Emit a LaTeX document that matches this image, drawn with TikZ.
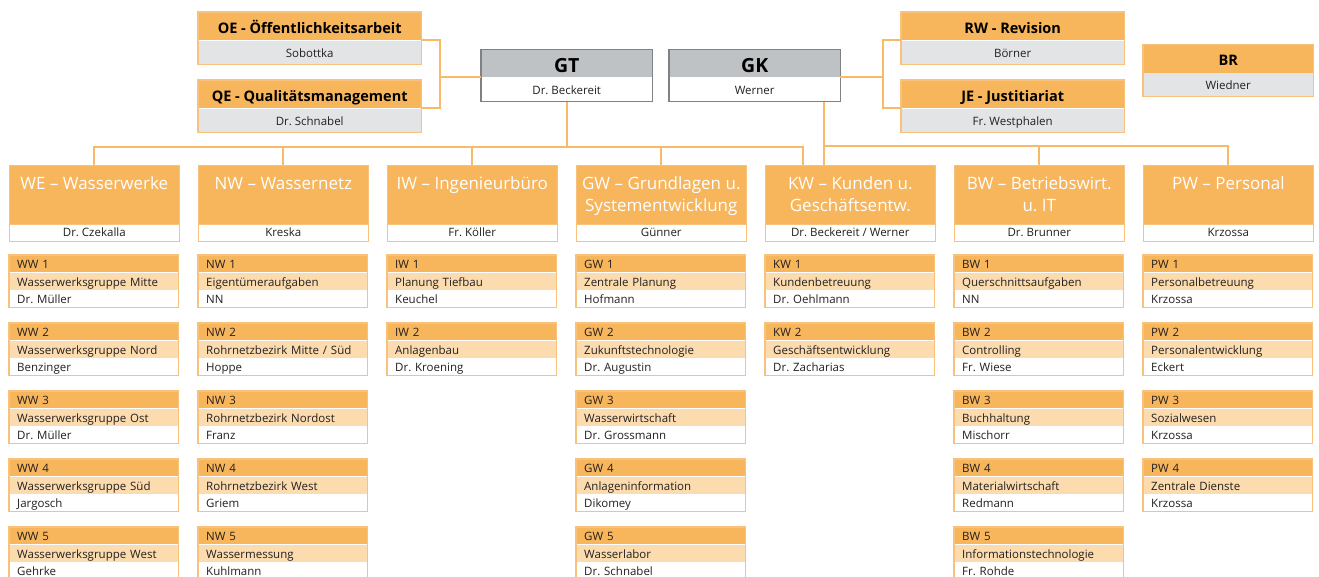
\documentclass[tikz,border=0pt]{standalone}
\usepackage{fontspec}
\setmainfont{Open Sans}
\usetikzlibrary{calc}
\frenchspacing

\definecolor{orH}{HTML}{F7B55C}
\definecolor{orM}{HTML}{FCDCAF}
\definecolor{orL}{HTML}{F9C27C}
\definecolor{lnk}{HTML}{F8BA68}
\definecolor{grL}{HTML}{E3E4E6}
\definecolor{grH}{HTML}{BEC2C4}
\definecolor{grB}{HTML}{7F8285}
\definecolor{txt}{HTML}{231F20}

% sub-unit box: name, x, y, code, task, person
\newcommand\unitbox[6]{%
  \node[rowA, anchor=north west] (#1-h) at (#2,#3) {#4};
  \node[rowB, anchor=north] (#1-m) at (#1-h.south) {#5};
  \node[rowC, anchor=north] (#1-p) at (#1-m.south) {#6};
  \draw[frame] (#1-h.north west) rectangle (#1-p.south east);}

% department box: name, x, title, person
\newcommand\deptbox[4]{%
  \node[depthead, anchor=north west] (#1) at (#2,165) {};
  \node[deptname, anchor=south] (#1-p) at (#1.south) {#4};
  \node[depttitle] (#1-t) at ($(#1.north)+(0,24.5)$)
    {\begin{tabular}[t]{@{}c@{}}#3\end{tabular}};}

% staff box: name, x, y, width, title, person, style family (o or g)
\newcommand\orgtop[7]{%
  \node[#7head, anchor=north west, minimum width=#4] (#1-h) at (#2,#3) {#5};
  \node[#7name, anchor=north, minimum width=#4] (#1) at (#1-h.south) {#6};
  \draw[#7frame] (#1-h.north west) rectangle (#1.south east);}

\begin{document}
\begin{tikzpicture}[x=1pt,y=-1pt,
  row/.style={rectangle, inner xsep=8pt, inner ysep=0pt,
    text width=153.5pt, minimum height=17pt, text height=10.5pt, text depth=0pt,
    align=left, font=\fontsize{11.5}{14}\selectfont, text=txt},
  rowA/.style={row, fill=orH},
  rowB/.style={row, fill=orM},
  rowC/.style={row, fill=white},
  frame/.style={draw=orL, line width=1.1pt},
  depthead/.style={rectangle, fill=orH, draw=orL, line width=1.1pt,
    minimum width=169.5pt, minimum height=75.7pt, inner sep=0pt},
  deptname/.style={rectangle, fill=white, draw=orL, line width=1.1pt,
    minimum width=169.5pt, minimum height=16.7pt, inner sep=0pt,
    text height=9pt, text depth=2pt, font=\fontsize{11.5}{14}\selectfont, text=txt},
  depttitle/.style={anchor=base, inner sep=0pt, text=white,
    font=\fontsize{17}{22.5}\selectfont},
  ohead/.style={rectangle, fill=orH, inner sep=0pt,
    minimum height=28pt, text height=14pt, text depth=0pt,
    font=\fontsize{14.5}{17}\selectfont\bfseries, text=black},
  oname/.style={rectangle, fill=grL, inner sep=0pt,
    minimum height=23.5pt, text height=10.5pt, text depth=0.5pt,
    font=\fontsize{11.5}{14}\selectfont, text=txt},
  oframe/.style={draw=orL, line width=1.1pt},
  ghead/.style={rectangle, fill=grH, inner sep=0pt,
    minimum height=27.5pt, text height=18.5pt, text depth=0pt,
    font=\fontsize{19.5}{22}\selectfont\bfseries, text=black},
  gname/.style={rectangle, fill=white, inner sep=0pt,
    minimum height=24pt, text height=10.5pt, text depth=0.5pt,
    font=\fontsize{11.5}{14}\selectfont, text=txt},
  gframe/.style={draw=grB, line width=1.4pt},
  link/.style={draw=lnk, line width=2pt}]

\useasboundingbox (0,0) rectangle (1319,577);
\clip (0,0) rectangle (1319,577);

% management and staff units
\orgtop{gt}{481}{49.5}{171pt}{GT}{Dr. Beckereit}{g}
\orgtop{gk}{669}{49.5}{171pt}{GK}{Werner}{g}
\orgtop{oe}{198}{12}{223pt}{OE - Öffentlichkeitsarbeit}{Sobottka}{o}
\orgtop{qe}{198}{80}{223pt}{QE - Qualitätsmanagement}{Dr. Schnabel}{o}
\orgtop{rw}{901}{12}{223pt}{RW - Revision}{Börner}{o}
\orgtop{je}{901}{80}{223pt}{JE - Justitiariat}{Fr. Westphalen}{o}
\orgtop{br}{1143}{44.5}{170pt}{BR}{Wiedner}{o}

% staff brackets
\draw[link] (gt-h.south west) -- ++(-41,0) coordinate (brL);
\draw[link] (oe-h.south east) -| (brL) |- (qe-h.south east);
\draw[link] (gk-h.south east) -- ++(43,0) coordinate (brR);
\draw[link] (rw-h.south west) -| (brR) |- (je-h.south west);

% departments
\deptbox{we}{9}{WE – Wasserwerke}{Dr. Czekalla}
\deptbox{nw}{198}{NW – Wassernetz}{Kreska}
\deptbox{iw}{387}{IW – Ingenieurbüro}{Fr. Köller}
\deptbox{gw}{576}{GW – Grundlagen u.\\Systementwicklung}{Günner}
\deptbox{kw}{765}{KW – Kunden u.\\Geschäftsentw.}{Dr. Beckereit / Werner}
\deptbox{bw}{954}{BW – Betriebswirt.\\u. IT}{Dr. Brunner}
\deptbox{pw}{1143}{PW – Personal}{Krzossa}

% reporting lines
\path (gt.south) ++(0,45) coordinate (busA);
\coordinate (kwA) at (803,165);
\coordinate (kwB) at (824,165);
\coordinate (busB) at (824,146);
\draw[link] (gt.south) -- (busA);
\foreach \d in {we,nw,iw,gw} \draw[link] (busA) -| (\d.north);
\draw[link] (busA) -| (kwA);
\draw[link] (gk.south -| kwB) -- (kwB);
\draw[link] (busB) -| (bw.north);
\draw[link] (busB) -| (pw.north);

% sub-units
\unitbox{ww1}{9}{255}{WW 1}{Wasserwerksgruppe Mitte}{Dr. Müller}
\unitbox{ww2}{9}{323}{WW 2}{Wasserwerksgruppe Nord}{Benzinger}
\unitbox{ww3}{9}{391}{WW 3}{Wasserwerksgruppe Ost}{Dr. Müller}
\unitbox{ww4}{9}{459}{WW 4}{Wasserwerksgruppe Süd}{Jargosch}
\unitbox{ww5}{9}{527}{WW 5}{Wasserwerksgruppe West}{Gehrke}

\unitbox{nw1}{198}{255}{NW 1}{Eigentümeraufgaben}{NN}
\unitbox{nw2}{198}{323}{NW 2}{Rohrnetzbezirk Mitte / Süd}{Hoppe}
\unitbox{nw3}{198}{391}{NW 3}{Rohrnetzbezirk Nordost}{Franz}
\unitbox{nw4}{198}{459}{NW 4}{Rohrnetzbezirk West}{Griem}
\unitbox{nw5}{198}{527}{NW 5}{Wassermessung}{Kuhlmann}

\unitbox{iw1}{387}{255}{IW 1}{Planung Tiefbau}{Keuchel}
\unitbox{iw2}{387}{323}{IW 2}{Anlagenbau}{Dr. Kroening}

\unitbox{gw1}{576}{255}{GW 1}{Zentrale Planung}{Hofmann}
\unitbox{gw2}{576}{323}{GW 2}{Zukunftstechnologie}{Dr. Augustin}
\unitbox{gw3}{576}{391}{GW 3}{Wasserwirtschaft}{Dr. Grossmann}
\unitbox{gw4}{576}{459}{GW 4}{Anlageninformation}{Dikomey}
\unitbox{gw5}{576}{527}{GW 5}{Wasserlabor}{Dr. Schnabel}

\unitbox{kw1}{765}{255}{KW 1}{Kundenbetreuung}{Dr. Oehlmann}
\unitbox{kw2}{765}{323}{KW 2}{Geschäftsentwicklung}{Dr. Zacharias}

\unitbox{bw1}{954}{255}{BW 1}{Querschnittsaufgaben}{NN}
\unitbox{bw2}{954}{323}{BW 2}{Controlling}{Fr. Wiese}
\unitbox{bw3}{954}{391}{BW 3}{Buchhaltung}{Mischorr}
\unitbox{bw4}{954}{459}{BW 4}{Materialwirtschaft}{Redmann}
\unitbox{bw5}{954}{527}{BW 5}{Informationstechnologie}{Fr. Rohde}

\unitbox{pw1}{1143}{255}{PW 1}{Personalbetreuung}{Krzossa}
\unitbox{pw2}{1143}{323}{PW 2}{Personalentwicklung}{Eckert}
\unitbox{pw3}{1143}{391}{PW 3}{Sozialwesen}{Krzossa}
\unitbox{pw4}{1143}{459}{PW 4}{Zentrale Dienste}{Krzossa}
\end{tikzpicture}
\end{document}
